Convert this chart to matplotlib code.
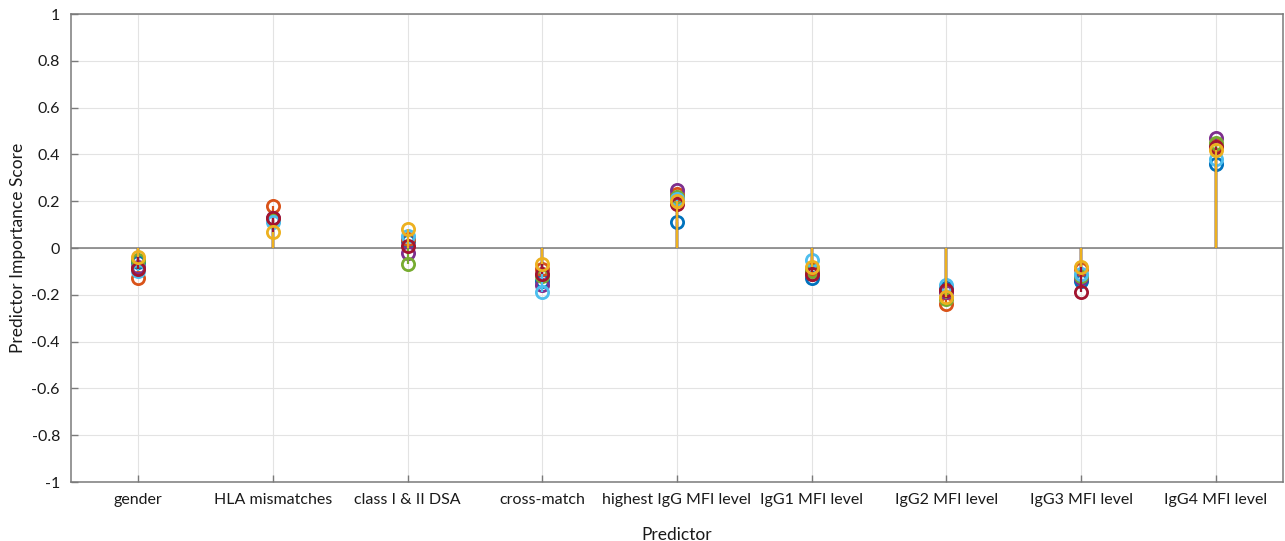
import matplotlib
matplotlib.use("Agg")
import matplotlib.pyplot as plt
import numpy as np

plt.rcParams['font.family'] = ['Lato', 'DejaVu Sans']

predictors = ["gender", "HLA mismatches", "class I & II DSA", "cross-match",
              "highest IgG MFI level", "IgG1 MFI level", "IgG2 MFI level",
              "IgG3 MFI level", "IgG4 MFI level"]

s_blue      = [-0.06, 0.12, 0.03, -0.14, 0.11, -0.13, -0.17, -0.14, 0.36]
s_orange    = [-0.13, 0.18, 0.04, -0.09, 0.23, -0.09, -0.24, -0.09, 0.44]
s_purple    = [-0.08, 0.13, -0.02, -0.16, 0.25, -0.11, -0.19, -0.13, 0.47]
s_green     = [-0.05, 0.12, -0.07, -0.12, 0.22, -0.10, -0.22, -0.12, 0.45]
s_lightblue = [-0.10, 0.11, 0.05, -0.19, 0.21, -0.05, -0.16, -0.11, 0.38]
s_darkred   = [-0.09, 0.13, 0.01, -0.11, 0.19, -0.11, -0.18, -0.19, 0.43]
s_yellow    = [-0.04, 0.07, 0.08, -0.07, 0.20, -0.08, -0.21, -0.08, 0.42]

series = [
    (s_blue, "#0072BD"),
    (s_orange, "#D95319"),
    (s_purple, "#7E2F8E"),
    (s_green, "#77AC30"),
    (s_lightblue, "#4DBEEE"),
    (s_darkred, "#A2142F"),
    (s_yellow, "#EDB120"),
]

fig = plt.figure(figsize=(12.85, 5.41), dpi=100)
ax = fig.add_axes([71/1285, 59/541, (1283-71)/1285, (482-14)/541])

x = np.arange(1, len(predictors) + 1)
for vals, col in series:
    vals = np.asarray(vals)
    ax.vlines(x, 0, vals, colors=col, linewidth=1.6, zorder=3)
    ax.plot(x, vals, linestyle='none', marker='o', markersize=8.8,
            markerfacecolor='none', markeredgecolor=col, markeredgewidth=2.0, zorder=3)

ax.axhline(0, color='#7a7a7a', linewidth=1.1, zorder=2)

ax.set_xlim(0.5, 9.5)
ax.set_ylim(-1, 1)
ax.set_xticks(x)
ax.set_xticklabels(predictors)
ax.set_yticks(np.round(np.arange(-1, 1.01, 0.2), 1))
ax.set_yticklabels(["-1", "-0.8", "-0.6", "-0.4", "-0.2", "0", "0.2", "0.4", "0.6", "0.8", "1"])
ax.grid(True, color='#e3e3e3', linewidth=0.8, zorder=0)
ax.set_axisbelow(True)
ax.tick_params(direction='in', length=5, width=1.0, color='#7a7a7a',
               labelcolor='#1a1a1a', labelsize=11.5, pad=8)
for sp in ax.spines.values():
    sp.set_color('#7a7a7a')
    sp.set_linewidth(1.1)

ax.set_xlabel("Predictor", fontsize=12.5, color='#1a1a1a', labelpad=14)
ax.set_ylabel("Predictor Importance Score", fontsize=12.5, color='#1a1a1a', labelpad=4)

fig.savefig("out.png", dpi=100, facecolor='white')
